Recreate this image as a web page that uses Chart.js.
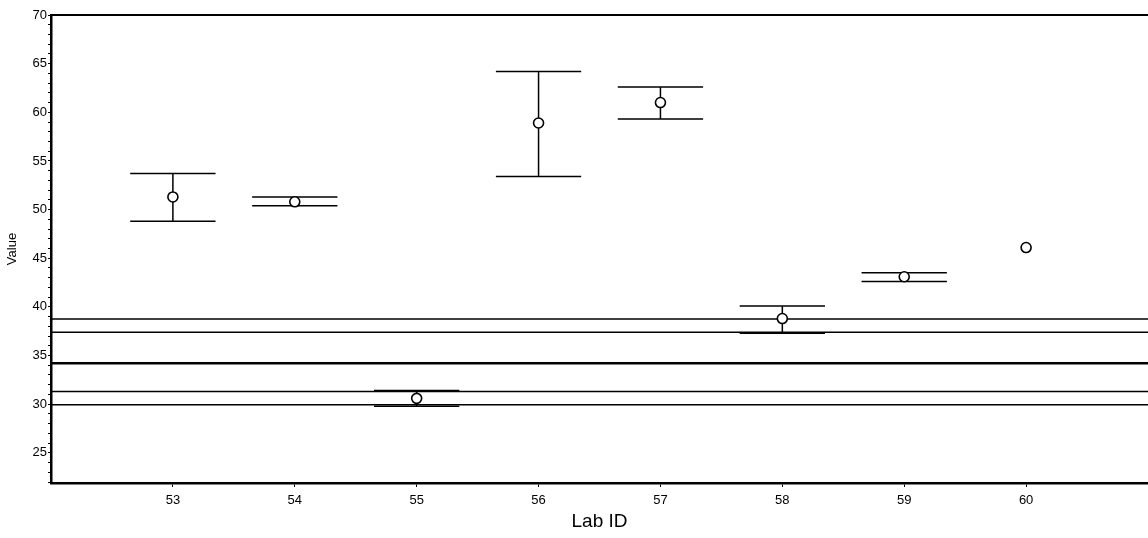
<!DOCTYPE html>
<html>
<head>
<meta charset="utf-8">
<script src="https://cdn.jsdelivr.net/npm/chart.js@4"></script>
<style>
  html, body { margin: 0; padding: 0; background: #fff; }
  #wrap { width: 1148px; height: 538px; }
</style>
</head>
<body>
<div id="wrap"><canvas id="labChart"></canvas></div>
<script>
// values
const labIds = [53, 54, 55, 56, 57, 58, 59, 60];
const means  = [51.3, 50.8, 30.6, 58.9, 61.0, 38.8, 43.1, 46.1];
const upper  = [53.7, 51.3, 31.4, 64.2, 62.6, 40.1, 43.5, null];
const lower  = [48.8, 50.4, 29.8, 53.4, 59.3, 37.3, 42.6, null];
const refLines = [38.75, 37.4, 34.2, 31.3, 29.95];
const refWidths = [1.5, 1.5, 2.5, 1.5, 1.5];

const xMin = 52, xMax = 61;
const yMin = 21.9, yMax = 70;
const capHalf = 0.35;
const font = "'Liberation Sans', Arial, sans-serif";

// error bars (whisker + caps) drawn under the points
const errorBars = {
    id: 'errorBars',
    beforeDatasetsDraw(chart) {
        const ctx = chart.ctx;
        const xs = chart.scales.x, ys = chart.scales.y;
        ctx.save();
        ctx.strokeStyle = '#000';
        ctx.lineWidth = 1.5;
        labIds.forEach((id, i) => {
            if (upper[i] == null) return;
            const x = xs.getPixelForValue(id);
            const x0 = xs.getPixelForValue(id - capHalf);
            const x1 = xs.getPixelForValue(id + capHalf);
            const yu = ys.getPixelForValue(upper[i]);
            const yl = ys.getPixelForValue(lower[i]);
            ctx.beginPath();
            ctx.moveTo(x, yu); ctx.lineTo(x, yl);
            ctx.moveTo(x0, yu); ctx.lineTo(x1, yu);
            ctx.moveTo(x0, yl); ctx.lineTo(x1, yl);
            ctx.stroke();
        });
        ctx.restore();
    },
    afterDraw(chart) {
        // top frame line
        const ctx = chart.ctx, a = chart.chartArea;
        ctx.save();
        ctx.strokeStyle = '#000';
        ctx.lineWidth = 2;
        ctx.beginPath();
        ctx.moveTo(a.left, a.top);
        ctx.lineTo(a.right, a.top);
        ctx.stroke();
        ctx.restore();
    }
};

const refDatasets = refLines.map((v, i) => ({
    type: 'line',
    data: [{ x: xMin, y: v }, { x: xMax, y: v }],
    borderColor: '#000',
    borderWidth: refWidths[i],
    pointRadius: 0,
    fill: false,
    order: 2
}));

new Chart(document.getElementById('labChart'), {
    type: 'scatter',
    data: {
        datasets: [
            {
                label: 'Value',
                data: labIds.map((id, i) => ({ x: id, y: means[i] })),
                pointRadius: 5,
                pointBackgroundColor: '#fff',
                pointBorderColor: '#000',
                pointBorderWidth: 1.6,
                order: 1
            },
            ...refDatasets
        ]
    },
    options: {
        responsive: true,
        maintainAspectRatio: false,
        animation: false,
        layout: { autoPadding: false, padding: { top: 15, right: 0, left: 0, bottom: 0 } },
        plugins: {
            legend: { display: false },
            tooltip: { enabled: false }
        },
        scales: {
            x: {
                type: 'linear',
                min: xMin,
                max: xMax,
                afterBuildTicks: s => { s.ticks = labIds.map(v => ({ value: v })); },
                afterFit: s => { s.height = 55; s.paddingRight = 0; },
                grid: { drawOnChartArea: false, drawTicks: true, tickLength: 4, color: '#000', tickWidth: 1 },
                border: { display: true, color: '#000', width: 2.5 },
                ticks: { color: '#000', padding: 6, font: { family: font, size: 13 } },
                title: { display: true, text: 'Lab ID', color: '#000', padding: { top: 0, bottom: 5 }, font: { family: font, size: 19 } }
            },
            y: {
                type: 'linear',
                min: yMin,
                max: yMax,
                afterBuildTicks: s => {
                    const t = [];
                    for (let v = 22; v <= 70; v++) t.push({ value: v });
                    s.ticks = t;
                },
                afterFit: s => { s.width = 51; },
                grid: { drawOnChartArea: false, drawTicks: true, tickLength: 3, color: '#000', tickWidth: 1 },
                border: { display: true, color: '#000', width: 2.5 },
                ticks: {
                    color: '#000',
                    padding: 1,
                    autoSkip: false,
                    font: { family: font, size: 13 },
                    callback: v => (v % 5 === 0 ? v : '')
                },
                title: { display: true, text: 'Value', color: '#000', padding: { top: 5, bottom: 2 }, font: { family: font, size: 13 } }
            }
        }
    },
    plugins: [errorBars]
});
</script>
</body>
</html>
